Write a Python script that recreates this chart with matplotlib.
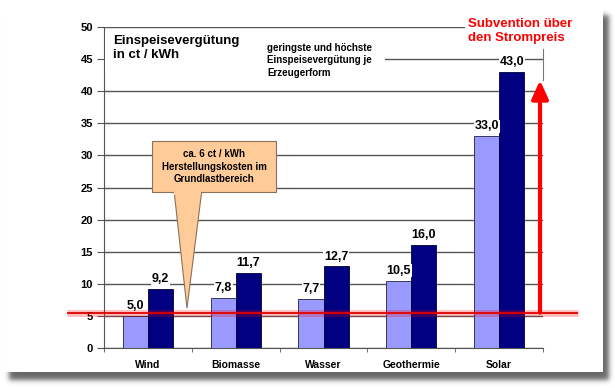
import numpy as np
import matplotlib
matplotlib.use('Agg')
import matplotlib.pyplot as plt
from matplotlib.patches import Rectangle, Polygon

plt.rcParams['font.family'] = ['Liberation Sans', 'DejaVu Sans']

categories = ['Wind', 'Biomasse', 'Wasser', 'Geothermie', 'Solar']
lowest = [5.0, 7.8, 7.7, 10.5, 33.0]
highest = [9.2, 11.7, 12.7, 16.0, 43.0]
grundlast = 5.5      # Herstellungskosten (red line)
y_ticks = np.arange(0, 51, 5)

fig = plt.figure(figsize=(6.15, 3.88), dpi=100)
fig.patch.set_facecolor('white')

# card with a soft shadow
bg = fig.add_axes([0, 0, 1, 1])
bg.set_xlim(0, 615)
bg.set_ylim(388, 0)
bg.axis('off')
gx, gy = np.meshgrid(np.arange(615) + 0.5, np.arange(388) + 0.5)
s = lambda t: 0.5 * (1 + np.tanh(t / 3.0))
shadow = np.zeros((388, 615, 4))
shadow[..., 3] = 0.6 * s(gx - 9) * s(609 - gx) * s(gy - 15) * s(380 - gy)
bg.imshow(shadow, extent=(0, 615, 388, 0), interpolation='bilinear', aspect='auto')
bg.add_patch(Rectangle((3, 9), 600, 363, facecolor='white', lw=0))
bg.set_xlim(0, 615)
bg.set_ylim(388, 0)

ax = fig.add_axes([104 / 615, 1 - 348 / 388, 439 / 615, 321 / 388])
ax.set_facecolor('none')
x = np.arange(len(categories))
w = 0.285
ax.bar(x - w / 2, lowest, w, color='#9999ff', edgecolor='#202040', lw=0.6, zorder=3)
ax.bar(x + w / 2, highest, w, color='#000080', edgecolor='#000030', lw=0.6, zorder=3)

ax.set_xlim(-0.5, len(categories) - 0.5)
ax.set_ylim(0, 50)
ax.set_yticks(y_ticks)
ax.set_yticklabels([str(v) for v in y_ticks], fontsize=8, fontweight='bold')
ax.set_xticks(x)
ax.set_xticklabels(categories, fontsize=7.5, fontweight='bold')
ax.set_xticks(np.arange(-0.5, len(categories)), minor=True)
ax.tick_params(axis='x', which='major', length=0, pad=9)
ax.tick_params(axis='x', which='minor', length=3, color='#555555', direction='out')
ax.tick_params(axis='y', length=5, color='#555555', pad=3)
ax.yaxis.grid(True, color='#555555', lw=1.0, zorder=0)
for sp in ['top', 'right']:
    ax.spines[sp].set_visible(False)
ax.spines['left'].set_color('#555555')
ax.spines['bottom'].set_color('#555555')

# small piece of the right border above the arrow
ax.plot([4.5, 4.5], [41.7, 46.5], color='#777777', lw=0.8, clip_on=False, zorder=2)

for xi, v in zip(x - w / 2, lowest):
    ax.text(xi, v + 0.6, f'{v:.1f}'.replace('.', ','), ha='center', va='bottom',
            fontsize=9, fontweight='bold', zorder=5,
            bbox=dict(facecolor='white', edgecolor='none', pad=0.5))
for xi, v in zip(x + w / 2, highest):
    ax.text(xi, v + 0.6, f'{v:.1f}'.replace('.', ','), ha='center', va='bottom',
            fontsize=9, fontweight='bold', zorder=5,
            bbox=dict(facecolor='white', edgecolor='none', pad=0.5))

# red cost line across and beyond the plot
ax.plot([-0.92, 4.9], [grundlast, grundlast], color='red', lw=5, alpha=0.25,
        clip_on=False, zorder=6, solid_capstyle='butt')
ax.plot([-0.92, 4.9], [grundlast, grundlast], color='#e00000', lw=1.3,
        clip_on=False, zorder=6, solid_capstyle='butt')

# red arrow
ax.annotate('', xy=(4.466, 41.7), xytext=(4.466, grundlast), zorder=7,
            arrowprops=dict(arrowstyle='-|>,head_length=0.55,head_width=0.25',
                            mutation_scale=20, color='red', lw=3,
                            shrinkA=0, shrinkB=0))

# callout
ax.add_patch(Polygon([(0.286, 26), (0.628, 26), (0.445, 6.2)], closed=True,
                     facecolor='#ffcc99', edgecolor='#8c7058', lw=0.8, zorder=8))
ax.add_patch(Rectangle((0.047, 24.3), 1.412, 7.9, facecolor='#ffcc99',
                       edgecolor='#8c7058', lw=0.8, zorder=8))
ax.add_patch(Rectangle((0.3, 23.9), 0.31, 0.8, facecolor='#ffcc99',
                       edgecolor='none', zorder=9))
ax.text(0.753, 28.25, 'ca. 6 ct / kWh\nHerstellungskosten im\nGrundlastbereich',
        ha='center', va='center', fontsize=7, fontweight='bold', linespacing=1.35,
        zorder=10)

# white area behind the text blocks (hides the grid there)
ax.add_patch(Rectangle((-0.49, 42.8), 3.19, 6.4, facecolor='white',
                       edgecolor='none', zorder=4))
ax.text(-0.398, 46.7, 'Einspeisevergütung\nin ct / kWh', ha='left', va='center',
        fontsize=9.5, fontweight='bold', linespacing=1.2, zorder=5)
ax.text(1.357, 44.8, 'geringste und höchste\nEinspeisevergütung je\nErzeugerform',
        ha='left', va='center', fontsize=7, fontweight='bold', linespacing=1.35,
        zorder=5)
ax.add_patch(Rectangle((3.61, 48.5), 1.0, 3.0, facecolor='white',
                       edgecolor='none', zorder=4, clip_on=False))
ax.text(3.646, 49.4, 'Subvention über\nden Strompreis', ha='left', va='center',
        fontsize=9.5, fontweight='bold', color='red', linespacing=1.15,
        zorder=5, clip_on=False)

fig.savefig('out.png', dpi=100)
